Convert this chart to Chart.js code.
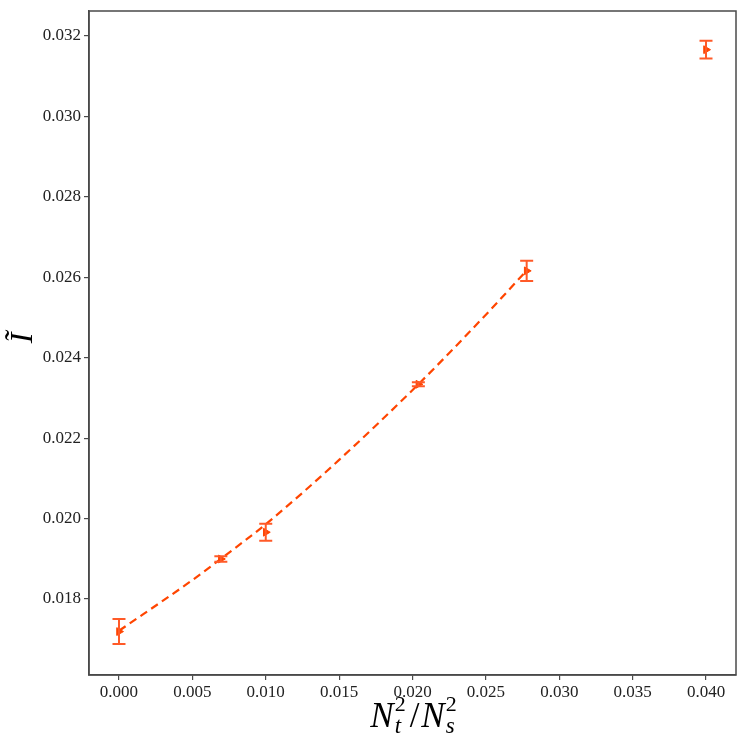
<!DOCTYPE html>
<html>
<head>
<meta charset="utf-8">
<script src="https://cdn.jsdelivr.net/npm/chart.js@4/dist/chart.umd.min.js"></script>
<style>
  html, body { margin: 0; padding: 0; background: #fff; }
  #wrap { width: 747px; height: 747px; }
</style>
</head>
<body>
<div id="wrap"><canvas id="c"></canvas></div>
<script>
// measured points (Nt^2/Ns^2, I~, error)
const xVals = [0.0, 0.00694, 0.0100, 0.0204, 0.02778, 0.0400]
const yVals = [0.01719, 0.018995, 0.01966, 0.02334, 0.02616, 0.03166]
const yErrs = [0.00031, 0.00007, 0.00021, 0.00005, 0.00025, 0.00022]

// dashed fit curve
const fitX = [0.0, 0.005, 0.00694, 0.010, 0.015, 0.0204, 0.025, 0.02778]
const fitY = [0.01721, 0.01847, 0.01900, 0.01986, 0.02146, 0.02334, 0.02507, 0.02617]

const xTicks = [0.000, 0.005, 0.010, 0.015, 0.020, 0.025, 0.030, 0.035, 0.040]
const yTicks = [0.018, 0.020, 0.022, 0.024, 0.026, 0.028, 0.030, 0.032]

const orange = '#ff4500'
const barColor = '#ff5a28'
const axisColor = '#4a4a4a'
const tickFont = { family: "'Liberation Serif', serif", size: 17 }

const errorBarsPlugin = {
    id: 'errorBars',
    afterDatasetsDraw: (chart) => {
        const { ctx, scales: { x, y } } = chart
        ctx.save()
        ctx.strokeStyle = barColor
        ctx.lineWidth = 2
        xVals.forEach((xv, i) => {
            const px = x.getPixelForValue(xv)
            const top = y.getPixelForValue(yVals[i] + yErrs[i])
            const bot = y.getPixelForValue(yVals[i] - yErrs[i])
            const cap = 6.5
            ctx.beginPath()
            ctx.moveTo(px, top)
            ctx.lineTo(px, bot)
            ctx.moveTo(px - cap, top)
            ctx.lineTo(px + cap, top)
            ctx.moveTo(px - cap, bot)
            ctx.lineTo(px + cap, bot)
            ctx.stroke()
        })
        ctx.restore()
    }
}

const frameAndLabelsPlugin = {
    id: 'frameAndLabels',
    afterDraw: (chart) => {
        const { ctx, chartArea } = chart
        ctx.save()
        ctx.strokeStyle = axisColor
        ctx.lineWidth = 1.5
        ctx.strokeRect(chartArea.left, chartArea.top, chartArea.right - chartArea.left, chartArea.bottom - chartArea.top)

        // y label: I tilde, rotated
        ctx.fillStyle = '#000'
        ctx.save()
        ctx.translate(24, 338)
        ctx.rotate(-Math.PI / 2)
        ctx.font = "italic 32px 'Liberation Serif', serif"
        ctx.textAlign = 'center'
        ctx.textBaseline = 'middle'
        ctx.fillText('Ĩ', 0, 0)
        ctx.restore()

        // x label: N_t^2 / N_s^2
        const big = "italic 35px 'Liberation Serif', serif"
        const bigUp = "35px 'Liberation Serif', serif"
        const small = "22px 'Liberation Serif', serif"
        const smallIt = "italic 23px 'Liberation Serif', serif"
        const base = 727
        ctx.textBaseline = 'alphabetic'
        ctx.textAlign = 'left'
        const w = (f, t) => { ctx.font = f; return ctx.measureText(t).width }
        const nW = w(big, 'N')
        const supW = Math.max(w(small, '2'), w(smallIt, 't'))
        const slW = w(bigUp, '/')
        const supW2 = Math.max(w(small, '2'), w(smallIt, 's'))
        const total = nW + supW + 4 + slW + 2 + nW + supW2
        let cx = (chartArea.left + chartArea.right) / 2 - total / 2
        ctx.font = big; ctx.fillText('N', cx, base); cx += nW + 1
        ctx.font = small; ctx.fillText('2', cx, base - 16)
        ctx.font = smallIt; ctx.fillText('t', cx, base + 6)
        cx += supW + 4
        ctx.font = bigUp; ctx.fillText('/', cx, base); cx += slW + 2
        ctx.font = big; ctx.fillText('N', cx, base); cx += nW + 1
        ctx.font = small; ctx.fillText('2', cx, base - 16)
        ctx.font = smallIt; ctx.fillText('s', cx, base + 6)
        ctx.restore()
    }
}

new Chart(document.getElementById('c').getContext('2d'), {
    type: 'scatter',
    data: {
        datasets: [
            {
                label: 'fit',
                type: 'line',
                data: fitX.map((xv, i) => ({ x: xv, y: fitY[i] })),
                borderColor: orange,
                borderWidth: 2.2,
                borderDash: [8, 5],
                pointRadius: 0,
                fill: false,
                cubicInterpolationMode: 'monotone'
            },
            {
                label: 'data',
                data: xVals.map((xv, i) => ({ x: xv, y: yVals[i] })),
                pointStyle: 'triangle',
                rotation: 90,
                pointRadius: 4.5,
                backgroundColor: orange,
                borderColor: orange,
                borderWidth: 1
            }
        ]
    },
    options: {
        responsive: true,
        maintainAspectRatio: false,
        animation: false,
        layout: { padding: { left: 0, right: 11, top: 11, bottom: 0 } },
        plugins: {
            legend: { display: false },
            tooltip: { enabled: false }
        },
        scales: {
            x: {
                type: 'linear',
                min: -0.002044,
                max: 0.042044,
                afterBuildTicks: (scale) => { scale.ticks = xTicks.map(v => ({ value: v })) },
                afterFit: (scale) => { scale.height = 72; scale.paddingLeft = 0; scale.paddingRight = 0 },
                ticks: {
                    font: tickFont,
                    color: '#222',
                    padding: 2,
                    maxRotation: 0,
                    callback: (v) => Number(v).toFixed(3)
                },
                grid: { drawOnChartArea: false, drawTicks: true, tickLength: 5, color: axisColor, lineWidth: 1.2 },
                border: { display: true, color: axisColor, width: 1.5 }
            },
            y: {
                type: 'linear',
                min: 0.01611,
                max: 0.032622,
                afterBuildTicks: (scale) => { scale.ticks = yTicks.map(v => ({ value: v })) },
                afterFit: (scale) => { scale.width = 89; scale.paddingTop = 0; scale.paddingBottom = 0 },
                ticks: {
                    font: tickFont,
                    color: '#222',
                    padding: 3,
                    callback: (v) => Number(v).toFixed(3)
                },
                grid: { drawOnChartArea: false, drawTicks: true, tickLength: 5, color: axisColor, lineWidth: 1.2 },
                border: { display: true, color: axisColor, width: 1.5 }
            }
        }
    },
    plugins: [errorBarsPlugin, frameAndLabelsPlugin]
})
</script>
</body>
</html>
